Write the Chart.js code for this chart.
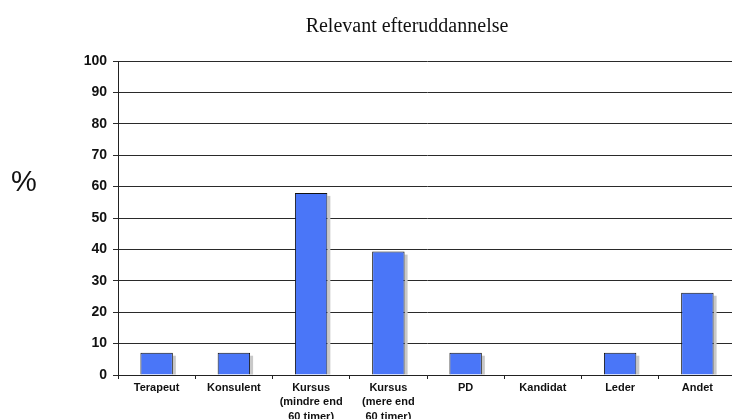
<!DOCTYPE html>
<html>
<head>
<meta charset="utf-8">
<script src="https://cdn.jsdelivr.net/npm/chart.js@4.4.1/dist/chart.umd.min.js"></script>
<style>
  html, body { margin: 0; padding: 0; background: #fff; overflow: hidden; }
  #wrap { position: relative; width: 736px; height: 419px; }
</style>
</head>
<body>
<div id="wrap"><canvas id="c" width="736" height="419"></canvas></div>
<script>
const chartTitle = 'Relevant efteruddannelse';
const yAxisTitle = '%';
const categories = [
  'Terapeut',
  'Konsulent',
  ['Kursus', '(mindre end', '60 timer)'],
  ['Kursus', '(mere end', '60 timer)'],
  'PD',
  'Kandidat',
  'Leder',
  'Andet'
];
const values = [7.1, 7.1, 58, 39.3, 7.1, 0, 7.1, 26.2];
const yTicks = [0, 10, 20, 30, 40, 50, 60, 70, 80, 90, 100];

const textPlugin = {
  id: 'texts',
  afterDraw(chart) {
    const ctx = chart.ctx;
    ctx.save();
    ctx.fillStyle = '#111';
    ctx.textAlign = 'center';
    ctx.textBaseline = 'middle';
    ctx.font = '20px "Liberation Serif", "Times New Roman", serif';
    ctx.fillText(chartTitle, 407, 27);
    ctx.font = '29px "Liberation Sans", Arial, sans-serif';
    ctx.fillText(yAxisTitle, 24, 183);
    ctx.restore();
  }
};

// grey drop shadow to the right of each bar, from the bar elements' geometry
const shadowPlugin = {
  id: 'barShadow',
  beforeDatasetsDraw(chart) {
    const ctx = chart.ctx;
    const meta = chart.getDatasetMeta(0);
    ctx.save();
    ctx.fillStyle = '#c8c8c8';
    meta.data.forEach(el => {
      const p = el.getProps(['x', 'y', 'base', 'width'], true);
      const h = p.base - p.y;
      if (h <= 0.5) return;
      const right = p.x + p.width / 2;
      ctx.fillRect(right, p.y + 3, 3, h - 3);
    });
    ctx.restore();
  }
};

new Chart(document.getElementById('c'), {
  type: 'bar',
  data: {
    labels: categories,
    datasets: [{
      data: values,
      backgroundColor: '#4a76f8',
      borderColor: '#111',
      borderWidth: 1,
      barPercentage: 0.42,
      categoryPercentage: 1.0
    }]
  },
  plugins: [shadowPlugin, textPlugin],
  options: {
    responsive: false,
    animation: false,
    layout: { padding: { top: 61, left: 0, right: 0, bottom: 0 } },
    plugins: {
      legend: { display: false },
      title: { display: false },
      tooltip: { enabled: false }
    },
    scales: {
      x: {
        grid: {
          display: true,
          drawOnChartArea: false,
          offset: true,
          tickLength: 4,
          color: '#222'
        },
        border: { color: '#222', width: 1 },
        ticks: {
          color: '#111',
          font: { family: '"Liberation Sans", Arial, sans-serif', size: 11, weight: 'bold', lineHeight: 1.3 },
          padding: 2,
          maxRotation: 0,
          autoSkip: false
        },
        afterFit(scale) { scale.height = 44; }
      },
      y: {
        min: 0,
        max: 100,
        afterBuildTicks(scale) { scale.ticks = yTicks.map(v => ({ value: v })); },
        grid: {
          color: '#2a2a2a',
          lineWidth: 1,
          tickLength: 5
        },
        border: { color: '#222', width: 1 },
        ticks: {
          color: '#111',
          font: { family: '"Liberation Sans", Arial, sans-serif', size: 14, weight: 'bold' },
          padding: 6
        },
        afterFit(scale) { scale.width = 118; }
      }
    }
  }
});
</script>
</body>
</html>
